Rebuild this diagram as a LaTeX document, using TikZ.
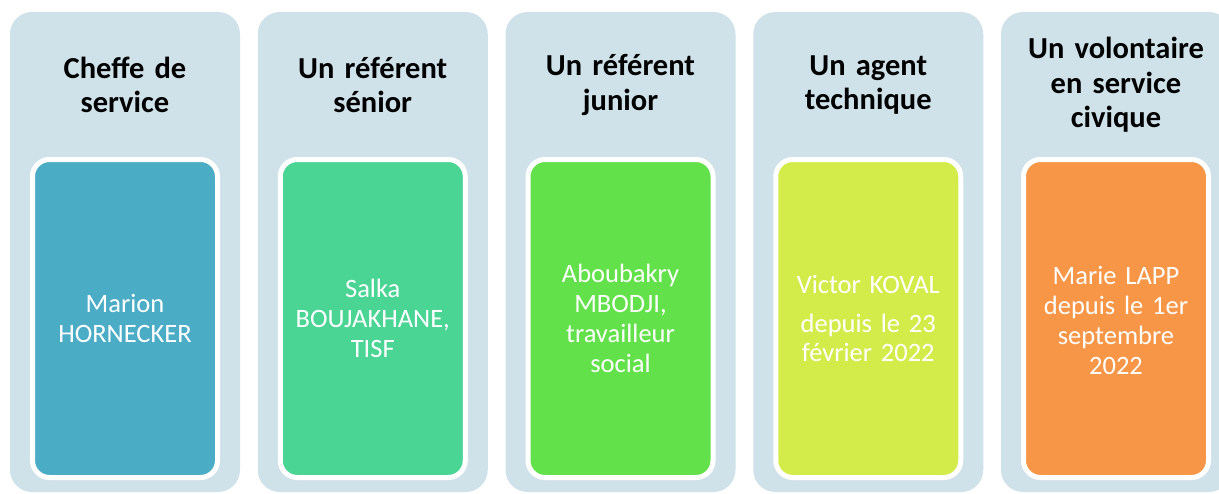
\documentclass[tikz,border=0pt]{standalone}
\usepackage{fontspec}
\setmainfont{Carlito}
\definecolor{panelbg}{HTML}{D0E2E9}
\definecolor{cA}{HTML}{4BACC6}
\definecolor{cB}{HTML}{4AD595}
\definecolor{cC}{HTML}{62E14A}
\definecolor{cD}{HTML}{D4EC4A}
\definecolor{cE}{HTML}{F79646}
\tikzset{
  panel/.style={fill=panelbg, rounded corners=22pt, minimum width=230pt, minimum height=480pt, inner sep=0pt, outer sep=0pt},
  card/.style={draw=white, line width=5pt, fill=#1, rounded corners=17pt, minimum width=185pt, minimum height=318pt, inner sep=0pt, outer sep=0pt},
  title/.style={font=\fontsize{30.5}{34.5}\selectfont\bfseries, align=center, text width=225pt, inner sep=0pt},
  body/.style={font=\fontsize{26.5}{29.8}\selectfont, text=white, align=center, text width=180pt, inner sep=0pt}
}
\begin{document}
\begin{tikzpicture}[x=1pt,y=-1pt]
\useasboundingbox (0,0) rectangle (1219,493);
\clip (0,0) rectangle (1219,493);
\foreach \i/\c in {0/cA,1/cB,2/cC,3/cD,4/cE}{
  \node[panel] (p\i) at (125+\i*247.75, 252) {};
  \node[card=\c] (c\i) at (125+\i*247.75, 318.5) {};
}
\node[title] (t0) at (125, 85) {Cheffe de\\service};
\node[title] (t1) at (125+247.75, 85) {Un référent\\sénior};
\node[title] (t2) at (125+2*247.75, 85) {Un référent\\junior};
\node[title] (t3) at (125+3*247.75, 85) {Un agent\\technique};
\node[title] (t4) at (125+4*247.75, 85) {Un volontaire\\en service\\civique};
\node[body] (b0) at (c0) {Marion\\HORNECKER};
\node[body] (b1) at (c1) {Salka\\BOUJAKHANE,\\TISF};
\node[body] (b2) at (c2) {Aboubakry\\MBODJI,\\travailleur\\social};
\node[body] (b3) at (c3) {Victor KOVAL\\[9pt]depuis le 23\\février 2022};
\node[body] (b4) at ([yshift=-2pt]c4) {Marie LAPP\\depuis le 1er\\septembre\\2022};
\end{tikzpicture}
\end{document}
